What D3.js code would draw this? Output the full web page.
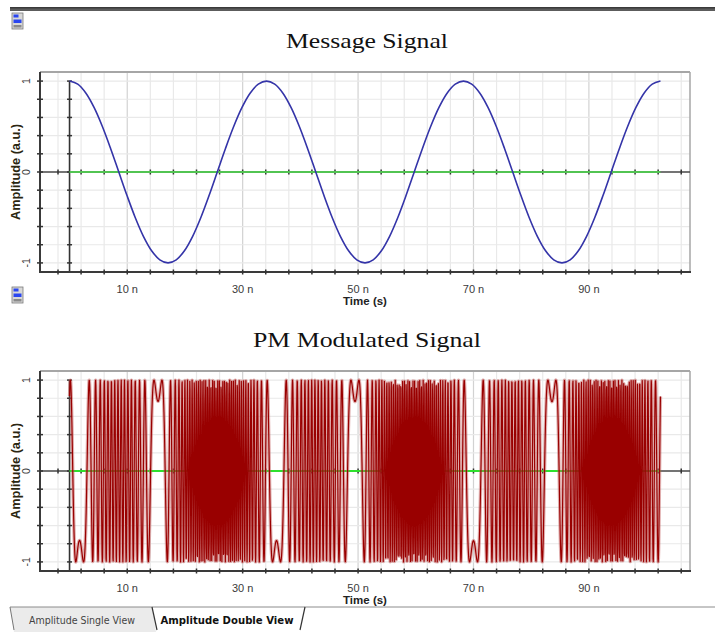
<!DOCTYPE html>
<html>
<head>
<meta charset="utf-8">
<script src="https://cdn.jsdelivr.net/npm/d3@7/dist/d3.min.js"></script>
<style>
  html, body { margin: 0; padding: 0; background: #ffffff; }
  svg { display: block; }
</style>
</head>
<body>
<svg id="chart" width="715" height="632"></svg>
<script>
// ---- data -------------------------------------------------------------
// Message signal, one sample every 1/24 of its period, over the 102.4 ns window
const messageSamples = [
  1, 0.9659, 0.866, 0.7071, 0.5, 0.2588, 0, -0.2588, -0.5, -0.7071, -0.866, -0.9659,
  -1, -0.9659, -0.866, -0.7071, -0.5, -0.2588, 0, 0.2588, 0.5, 0.7071, 0.866, 0.9659,
  1, 0.9659, 0.866, 0.7071, 0.5, 0.2588, 0, -0.2588, -0.5, -0.7071, -0.866, -0.9659,
  -1, -0.9659, -0.866, -0.7071, -0.5, -0.2588, 0, 0.2588, 0.5, 0.7071, 0.866, 0.9659,
  1, 0.9659, 0.866, 0.7071, 0.5, 0.2588, 0, -0.2588, -0.5, -0.7071, -0.866, -0.9659,
  -1, -0.9659, -0.866, -0.7071, -0.5, -0.2588, 0, 0.2588, 0.5, 0.7071, 0.866, 0.9659,
  1
];
const timeWindowNs = 102.4;

// Phase modulator settings for the lower trace
const carrierGHz = 0.8203;
const phaseDeviationRad = 88.93;
const phaseOffsetRad = -1.568;
const pmSampleStepNs = 0.04;

// Axis labels
const xTickLabels = [10, 30, 50, 70, 90];
const xMinorStepNs = 4;
const yTickLabels = [-1, 0, 1];
const yMinorStep = 0.2;

const panelTitles = ["Message Signal", "PM Modulated Signal"];
const tabLabels = ["Amplitude Single View", "Amplitude Double View"];

// ---- derived series ---------------------------------------------------
const messageStepNs = timeWindowNs / (messageSamples.length - 1);
const messagePoints = messageSamples.map((v, i) => ({ t: i * messageStepNs, v }));

// Catmull-Rom read-out of the message between its samples
function messageAt(t) {
  const n = messageSamples.length;
  const u = t / messageStepNs;
  let i = Math.floor(u);
  if (i >= n - 1) return messageSamples[n - 1];
  const f = u - i;
  const p0 = messageSamples[Math.max(i - 1, 0)];
  const p1 = messageSamples[i];
  const p2 = messageSamples[Math.min(i + 1, n - 1)];
  const p3 = messageSamples[Math.min(i + 2, n - 1)];
  return 0.5 * ((2 * p1) + (-p0 + p2) * f + (2 * p0 - 5 * p1 + 4 * p2 - p3) * f * f +
    (-p0 + 3 * p1 - 3 * p2 + p3) * f * f * f);
}

const pmCount = Math.round(timeWindowNs / pmSampleStepNs);
const pmPoints = d3.range(pmCount + 1).map(i => {
  const t = i * pmSampleStepNs;
  const phase = 2 * Math.PI * carrierGHz * t + phaseDeviationRad * messageAt(t) + phaseOffsetRad;
  return { t, v: Math.cos(phase) };
});

// ---- layout -----------------------------------------------------------
const svg = d3.select("#chart");
const plotLeft = 40, plotRight = 690, plotHeight = 200;
const pad = timeWindowNs * 0.05;

const xMinor = d3.range(10 - 3 * xMinorStepNs, timeWindowNs + pad, xMinorStepNs);
const yMinor = d3.range(-5, 6).map(k => +(k * yMinorStep).toFixed(2));

// header bar
svg.append("rect").attr("x", 10).attr("y", 7).attr("width", 705).attr("height", 4).attr("fill", "#5c5c5c");
svg.append("rect").attr("x", 10).attr("y", 7).attr("width", 705).attr("height", 1.5).attr("fill", "#3a3a3a");

function icon(x, y) {
  const g = svg.append("g").attr("transform", `translate(${x},${y})`);
  g.append("rect").attr("x", 0).attr("y", 0).attr("width", 11).attr("height", 16).attr("fill", "#d8d8d8").attr("stroke", "#7a7a7a").attr("stroke-width", 0.8);
  g.append("rect").attr("x", 1.5).attr("y", 1.5).attr("width", 5).attr("height", 3).attr("fill", "#2a46f0");
  g.append("rect").attr("x", 1.5).attr("y", 6.5).attr("width", 8).attr("height", 3.5).attr("fill", "#2a46f0");
  g.append("rect").attr("x", 1.5).attr("y", 12).attr("width", 8).attr("height", 2.5).attr("fill", "#8a8a8a");
}

const panels = [
  { top: 72, title: panelTitles[0], titleY: 48, titleLen: 162, iconY: 13,
    points: messagePoints, color: "#3434a8", width: 1.6, curve: d3.curveCatmullRom,
    zeroColor: "#52c452", halo: null },
  { top: 371, title: panelTitles[1], titleY: 347, titleLen: 228, iconY: 287,
    points: pmPoints, color: "#990000", width: 1.2, curve: d3.curveLinear,
    zeroColor: "#2ee02e", halo: { color: "#c25b5b", width: 3.4, opacity: 0.5 } }
];

panels.forEach(p => {
  const top = p.top, bottom = top + plotHeight;
  const x = d3.scaleLinear().domain([-pad, timeWindowNs + pad]).range([plotLeft, plotRight]);
  const y = d3.scaleLinear().domain([-1.1, 1.1]).range([bottom, top]);
  const g = svg.append("g");

  icon(12, p.iconY);

  g.append("text")
    .attr("x", (plotLeft + plotRight) / 2 + 2).attr("y", p.titleY)
    .attr("text-anchor", "middle")
    .attr("font-family", "'Liberation Serif', 'Times New Roman', serif")
    .attr("font-size", 22).attr("fill", "#111")
    .attr("textLength", p.titleLen).attr("lengthAdjust", "spacingAndGlyphs")
    .text(p.title);

  // grid
  g.append("g").selectAll("line").data(xMinor).join("line")
    .attr("x1", d => x(d)).attr("x2", d => x(d)).attr("y1", top).attr("y2", bottom)
    .attr("stroke", d => xTickLabels.includes(d) ? "#d2d2d2" : "#e9e9e9").attr("stroke-width", 1.2);
  g.append("g").selectAll("line").data(yMinor).join("line")
    .attr("x1", plotLeft).attr("x2", plotRight).attr("y1", d => y(d)).attr("y2", d => y(d))
    .attr("stroke", "#e9e9e9").attr("stroke-width", 1.2);

  // frame
  g.append("line").attr("x1", plotLeft).attr("x2", plotRight).attr("y1", top).attr("y2", top)
    .attr("stroke", "#a6a6a6").attr("stroke-width", 2);
  g.append("line").attr("x1", plotRight).attr("x2", plotRight).attr("y1", top).attr("y2", bottom)
    .attr("stroke", "#a6a6a6").attr("stroke-width", 1.5);

  // zero line and its ticks
  g.append("line").attr("x1", plotLeft).attr("x2", plotRight).attr("y1", y(0)).attr("y2", y(0))
    .attr("stroke", "#4a4a4a").attr("stroke-width", 1.6);
  g.append("g").selectAll("line").data(xMinor).join("line")
    .attr("x1", d => x(d)).attr("x2", d => x(d)).attr("y1", y(0) - 2.5).attr("y2", y(0) + 2.5)
    .attr("stroke", "#333").attr("stroke-width", 1.5);

  // time-zero axis
  g.append("line").attr("x1", x(0)).attr("x2", x(0)).attr("y1", y(1)).attr("y2", bottom)
    .attr("stroke", "#333").attr("stroke-width", 1.6);
  g.append("g").selectAll("line").data(yMinor).join("line")
    .attr("x1", x(0) - 2.5).attr("x2", x(0) + 2.5).attr("y1", d => y(d)).attr("y2", d => y(d))
    .attr("stroke", "#333").attr("stroke-width", 1.5);

  // reference trace at zero over the sampled window
  g.append("line").attr("x1", x(0)).attr("x2", x(timeWindowNs)).attr("y1", y(0)).attr("y2", y(0))
    .attr("stroke", p.zeroColor).attr("stroke-width", 2);

  // signal
  const line = d3.line().x(d => x(d.t)).y(d => y(d.v)).curve(p.curve);
  if (p.halo) {
    g.append("path").datum(p.points).attr("d", line)
      .attr("fill", "none").attr("stroke", p.halo.color).attr("stroke-width", p.halo.width)
      .attr("stroke-opacity", p.halo.opacity).attr("stroke-linejoin", "round");
  }
  g.append("path").datum(p.points).attr("d", line)
    .attr("fill", "none").attr("stroke", p.color).attr("stroke-width", p.width)
    .attr("stroke-linejoin", "round");

  // left and bottom axes
  g.append("line").attr("x1", plotLeft).attr("x2", plotLeft).attr("y1", top).attr("y2", bottom + 1)
    .attr("stroke", "#3a3a3a").attr("stroke-width", 2);
  g.append("line").attr("x1", plotLeft - 1).attr("x2", plotRight + 1).attr("y1", bottom).attr("y2", bottom)
    .attr("stroke", "#3a3a3a").attr("stroke-width", 2);
  g.append("g").selectAll("line").data(yMinor).join("line")
    .attr("x1", plotLeft - 3).attr("x2", plotLeft + 3).attr("y1", d => y(d)).attr("y2", d => y(d))
    .attr("stroke", "#333").attr("stroke-width", 1.5);
  g.append("g").selectAll("line").data(xMinor).join("line")
    .attr("x1", d => x(d)).attr("x2", d => x(d)).attr("y1", bottom - 2.5).attr("y2", bottom + 2.5)
    .attr("stroke", "#333").attr("stroke-width", 1.5);

  // tick labels
  g.append("g").selectAll("text").data(xTickLabels).join("text")
    .attr("x", d => x(d)).attr("y", bottom + 21)
    .attr("text-anchor", "middle")
    .attr("font-family", "'Liberation Sans', Arial, sans-serif").attr("font-size", 11)
    .attr("fill", "#3a3a3a")
    .text(d => `${d} n`);
  g.append("g").selectAll("text").data(yTickLabels).join("text")
    .attr("transform", d => `translate(30,${y(d)}) rotate(-90)`)
    .attr("text-anchor", "middle")
    .attr("font-family", "'Liberation Sans', Arial, sans-serif").attr("font-size", 10.5)
    .attr("fill", "#3a3a3a")
    .text(d => d);

  // axis titles
  g.append("text")
    .attr("x", (plotLeft + plotRight) / 2).attr("y", bottom + 33)
    .attr("text-anchor", "middle")
    .attr("font-family", "'Liberation Sans', Arial, sans-serif").attr("font-size", 11.5)
    .attr("font-weight", "bold").attr("fill", "#222")
    .text("Time (s)");
  g.append("text")
    .attr("transform", `translate(20,${y(0)}) rotate(-90)`)
    .attr("text-anchor", "middle")
    .attr("font-family", "'Liberation Sans', Arial, sans-serif").attr("font-size", 12)
    .attr("font-weight", "bold").attr("fill", "#2b2610")
    .attr("textLength", 96).attr("lengthAdjust", "spacingAndGlyphs")
    .text("Amplitude (a.u.)");
});

// view tabs
const tabs = svg.append("g");
tabs.append("path").attr("d", "M10,607 L14,632 L156,632 L152,607 Z").attr("fill", "#ebebeb");
tabs.append("path").attr("d", "M152,607 L157,632 L300,632 L305,607 Z").attr("fill", "#ffffff");
tabs.append("line").attr("x1", 10).attr("x2", 715).attr("y1", 607).attr("y2", 607)
  .attr("stroke", "#8c8c8c").attr("stroke-width", 1);
tabs.append("path").attr("d", "M10,607 L14,630").attr("stroke", "#777").attr("fill", "none");
tabs.append("path").attr("d", "M152,607 L157,630").attr("stroke", "#333").attr("fill", "none").attr("stroke-width", 1.2);
tabs.append("path").attr("d", "M305,607 L300,630").attr("stroke", "#333").attr("fill", "none").attr("stroke-width", 1.2);
tabs.append("text").attr("x", 82).attr("y", 624).attr("text-anchor", "middle")
  .attr("font-family", "'DejaVu Sans', 'Liberation Sans', sans-serif").attr("font-size", 10.5)
  .attr("fill", "#444").attr("textLength", 106).attr("lengthAdjust", "spacingAndGlyphs")
  .text(tabLabels[0]);
tabs.append("text").attr("x", 227).attr("y", 624).attr("text-anchor", "middle")
  .attr("font-family", "'DejaVu Sans', 'Liberation Sans', sans-serif").attr("font-size", 10.5)
  .attr("font-weight", "bold").attr("fill", "#111").attr("textLength", 133).attr("lengthAdjust", "spacingAndGlyphs")
  .text(tabLabels[1]);
</script>
</body>
</html>
